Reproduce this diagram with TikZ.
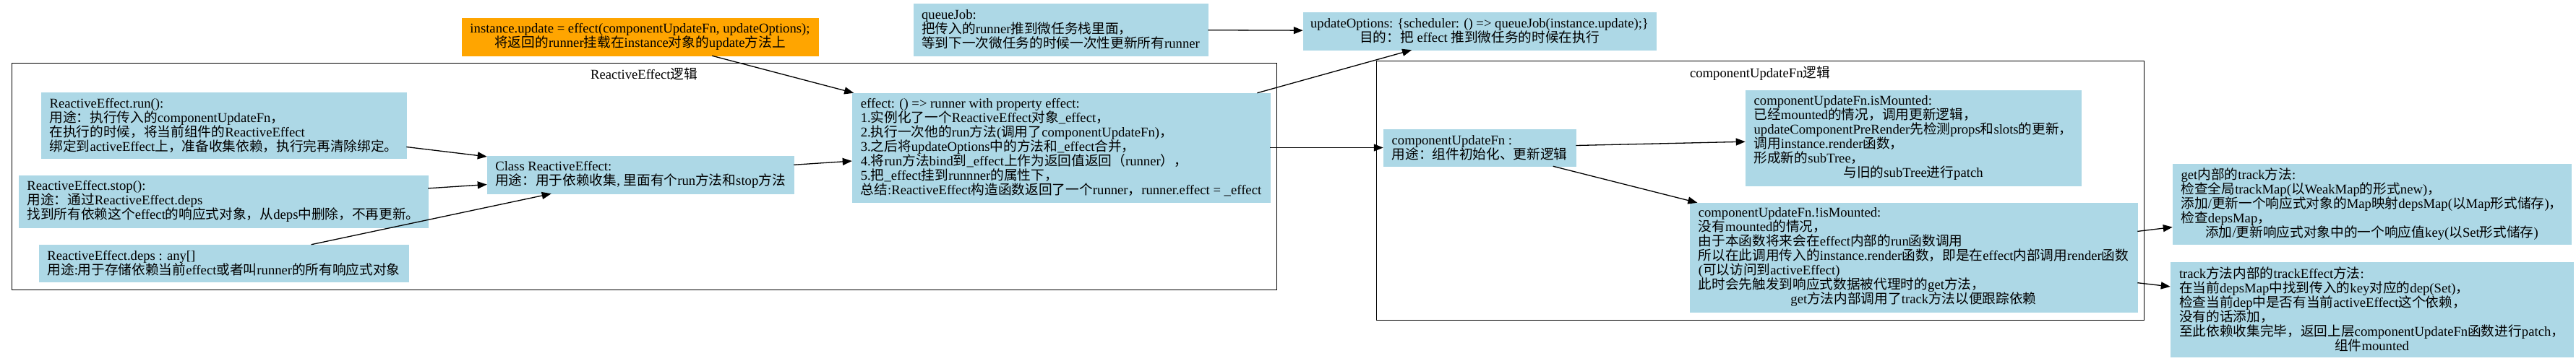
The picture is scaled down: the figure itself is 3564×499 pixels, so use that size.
\documentclass[tikz,border=0pt]{standalone}
\usepackage{fontspec}
\setmainfont{Liberation Serif}
\newfontfamily\cjk{Noto Sans CJK SC}
\usetikzlibrary{arrows.meta}
\definecolor{LightBlue}{RGB}{173,216,230}
\definecolor{Orange}{RGB}{255,165,0}

% chinese runs in the CJK font
\XeTeXinterchartokenstate=1
\newXeTeXintercharclass\HanClass
\newcount\hanchar
\def\hanrange#1#2{\hanchar=#1 \loop\XeTeXcharclass\hanchar=\HanClass
  \ifnum\hanchar<#2 \advance\hanchar by 1 \repeat}
\hanrange{"4E00}{"9FFF}
\hanrange{"3000}{"303F}
\hanrange{"FF00}{"FFEF}
\XeTeXinterchartoks 0 \HanClass = {\begingroup\cjk}
\XeTeXinterchartoks 4095 \HanClass = {\begingroup\cjk}
\XeTeXinterchartoks \HanClass 0 = {\endgroup}
\XeTeXinterchartoks \HanClass 4095 = {\endgroup}

\tikzset{
  box/.style={fill=LightBlue, draw=LightBlue, line width=0.5pt, inner xsep=4pt, inner ysep=1pt, align=left},
  hotbox/.style={box, fill=Orange, draw=Orange, align=center},
  cluster/.style={draw=black, line width=1pt},
  arr/.style={-{Triangle[length=13pt,width=10pt]}, line width=1.3pt}
}
\def\midrow#1{\hspace*{\fill}#1\hspace*{\fill}}

\begin{document}
\begin{tikzpicture}[x=1pt, y=-1pt, font={\fontsize{18.67}{20}\selectfont}]
\useasboundingbox (0,0) rectangle (3564,499);

% clusters
\draw[cluster] (16,87) rectangle (1766,401);
\node (title1) at (891,102) {ReactiveEffect逻辑};
\draw[cluster] (1904,84) rectangle (2966,443);
\node (title2) at (2435,102) {componentUpdateFn逻辑};

% top row
\node[hotbox, minimum width=493pt, minimum height=52pt] (upd) at (885.5,51)
  {instance.update = effect(componentUpdateFn, updateOptions);\\将返回的runner挂载在instance对象的update方法上};
\node[box, minimum width=407pt, minimum height=72pt] (queuejob) at (1467.5,41)
  {queueJob:\\把传入的runner推到微任务栈里面，\\等到下一次微任务的时候一次性更新所有runner};
\node[box, align=center, minimum width=488pt, minimum height=52pt] (updopts) at (2047,43)
  {updateOptions: \{scheduler: () => queueJob(instance.update);\}\\目的：把 effect 推到微任务的时候在执行};

% ReactiveEffect
\node[box, minimum width=505pt, minimum height=91pt] (run) at (309.5,173.5)
  {ReactiveEffect.run():\\用途：执行传入的componentUpdateFn，\\在执行的时候，将当前组件的ReactiveEffect\\绑定到activeEffect上，准备收集依赖，执行完再清除绑定。};
\node[box, minimum width=566pt, minimum height=72pt] (stop) at (309,279)
  {ReactiveEffect.stop():\\用途：通过ReactiveEffect.deps\\找到所有依赖这个effect的响应式对象，从deps中删除，不再更新。};
\node[box, minimum width=511pt, minimum height=51pt] (deps) at (309.5,364.5)
  {ReactiveEffect.deps : any[]\\用途:用于存储依赖当前effect或者叫runner的所有响应式对象};
\node[box, minimum width=424pt, minimum height=52pt] (cls) at (886,242)
  {Class ReactiveEffect:\\用途：用于依赖收集, 里面有个run方法和stop方法};
\node[box, minimum width=578pt, minimum height=151pt] (effect) at (1468,204.5)
  {effect: () => runner with property effect:\\
   1.实例化了一个ReactiveEffect对象\_effect，\\
   2.执行一次他的run方法(调用了componentUpdateFn)，\\
   3.之后将updateOptions中的方法和\_effect合并，\\
   4.将run方法bind到\_effect上作为返回值返回（runner），\\
   5.把\_effect挂到runnner的属性下，\\
   总结:ReactiveEffect构造函数返回了一个runner，runner.effect = \_effect};

% componentUpdateFn
\node[box, minimum width=266pt, minimum height=51pt] (cuf) at (2047,204.5)
  {componentUpdateFn :\\用途：组件初始化、更新逻辑};
\node[box, minimum width=464pt, minimum height=132pt] (mounted) at (2647,191)
  {componentUpdateFn.isMounted:\\
   已经mounted的情况，调用更新逻辑，\\
   updateComponentPreRender先检测props和slots的更新，\\
   调用instance.render函数，\\
   形成新的subTree，\\
   \midrow{与旧的subTree进行patch}};
\node[box, minimum width=619pt, minimum height=151pt] (unmounted) at (2647.5,356.5)
  {componentUpdateFn.!isMounted:\\
   没有mounted的情况，\\
   由于本函数将来会在effect内部的run函数调用\\
   所以在此调用传入的instance.render函数，即是在effect内部调用render函数\\
   (可以访问到activeEffect)\\
   此时会先触发到响应式数据被代理时的get方法，\\
   \midrow{get方法内部调用了track方法以便跟踪依赖}};

% track
\node[box, minimum width=551pt, minimum height=111pt] (gettrack) at (3281.5,282.5)
  {get内部的track方法:\\
   检查全局trackMap(以WeakMap的形式new)，\\
   添加/更新一个响应式对象的Map映射depsMap(以Map形式储存)，\\
   检查depsMap，\\
   \midrow{添加/更新响应式对象中的一个响应值key(以Set形式储存)}};
\node[box, minimum width=557pt, minimum height=131pt] (trackeffect) at (3281.5,428.5)
  {track方法内部的trackEffect方法:\\
   在当前depsMap中找到传入的key对应的dep(Set)，\\
   检查当前dep中是否有当前activeEffect这个依赖，\\
   没有的话添加，\\
   至此依赖收集完毕，返回上层componentUpdateFn函数进行patch，\\
   \midrow{组件mounted}};

% edges
\draw[arr] (upd) -- (effect);
\draw[arr] (queuejob) -- (updopts);
\draw[arr] (run) -- (cls);
\draw[arr] (stop) -- (cls);
\draw[arr] (deps) -- (cls);
\draw[arr] (cls) -- (effect);
\draw[arr] (effect) -- (updopts);
\draw[arr] (effect) -- (cuf);
\draw[arr] (cuf) -- (mounted);
\draw[arr] (cuf) -- (unmounted);
\draw[arr] (unmounted) -- (gettrack);
\draw[arr] (unmounted) -- (trackeffect);

\end{tikzpicture}
\end{document}
